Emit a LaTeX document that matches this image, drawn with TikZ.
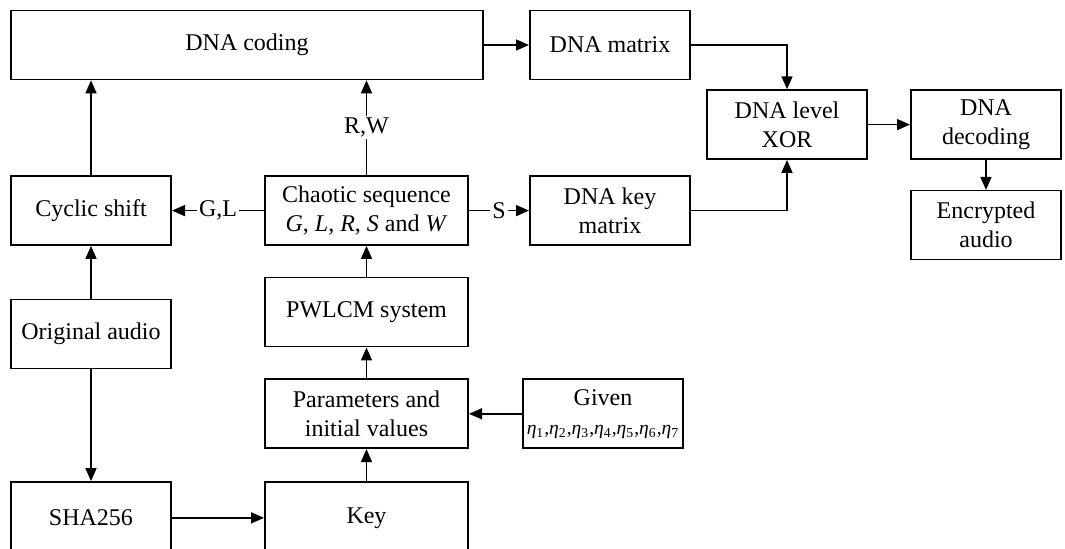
\documentclass[tikz,border=0pt]{standalone}
\usepackage{fontspec}
\setmainfont{Liberation Serif}
\usetikzlibrary{positioning, arrows.meta}

\newcommand{\etaidx}[1]{\textit{η}\textsubscript{#1}}

\begin{document}
\begin{tikzpicture}[
        x=0.5pt, y=-0.5pt,
        blk/.style={draw, line width=0.8pt, minimum height=34.5pt, align=center,
          inner sep=2pt, font=\fontsize{12}{14.5}\selectfont},
        nar/.style={blk, minimum width=80.2pt},
        wid/.style={blk, minimum width=101.7pt},
        arr/.style={-{Triangle[length=6.5pt,width=5.5pt]}, line width=0.8pt},
        lbl/.style={fill=white, inner sep=1pt, font=\fontsize{12}{14}\selectfont}
      ]
      \useasboundingbox (0,0) rectangle (1065,549);
      \node[blk, minimum width=236.2pt] (coding) at (247,45) {DNA coding};
      \node[nar] (dnamat) [right=22.5pt of coding] {DNA matrix};
      \node[nar] (xor) [below right=4.5pt and 7.5pt of dnamat] {DNA level\\XOR};
      \node[blk, minimum width=75.2pt] (decoding) [right=21pt of xor] {DNA\\decoding};
      \node[blk, minimum width=75.2pt] (encrypted) [below=15pt of decoding] {Encrypted\\audio};
      \node[nar] (cyclic) [below=47.5pt of coding.south west, anchor=north west] {Cyclic shift};
      \node[wid] (chaotic) [right=46pt of cyclic] {Chaotic sequence\\\textit{G}, \textit{L}, \textit{R}, \textit{S} and \textit{W}};
      \node[nar] (keymat) [right=30pt of chaotic] {DNA key\\matrix};
      \node[wid] (pwlcm) [below=15.5pt of chaotic] {PWLCM system};
      \node[wid] (params) [below=15.5pt of pwlcm] {Parameters and\\initial values};
      \node[nar, inner xsep=0.5pt] (given) [right=26.5pt of params] {Given\\{\fontsize{9.8}{12.5}\selectfont
        \etaidx{1},\etaidx{2},\etaidx{3},\etaidx{4},\etaidx{5},\etaidx{6},\etaidx{7}}};
      \node[wid, minimum height=36pt] (key) [below=16pt of params] {Key};
      \node[nar, minimum height=36pt] (sha) [left=46pt of key] {SHA256};
      \node[nar] (orig) [below=26.5pt of cyclic] {Original audio};
      \draw[arr] (coding) -- (dnamat);
      \draw[arr] (dnamat.east) -| (xor.north);
      \draw[arr] (keymat.east) -| (xor.south);
      \draw[arr] (xor) -- (decoding);
      \draw[arr] (decoding) -- (encrypted);
      \draw[arr] (chaotic) -- node[lbl] {G,L} (cyclic);
      \draw[arr] (chaotic) -- node[lbl] {S} (keymat);
      \draw[arr] (chaotic.north) -- node[lbl] {R,W} (chaotic.north |- coding.south);
      \draw[arr] (cyclic.north) -- (cyclic.north |- coding.south);
      \draw[arr] (orig) -- (cyclic);
      \draw[arr] (orig) -- (sha);
      \draw[arr] (sha) -- (key);
      \draw[arr] (key) -- (params);
      \draw[arr] (params) -- (pwlcm);
      \draw[arr] (pwlcm) -- (chaotic);
      \draw[arr] (given) -- (params);
    \end{tikzpicture}
\end{document}
